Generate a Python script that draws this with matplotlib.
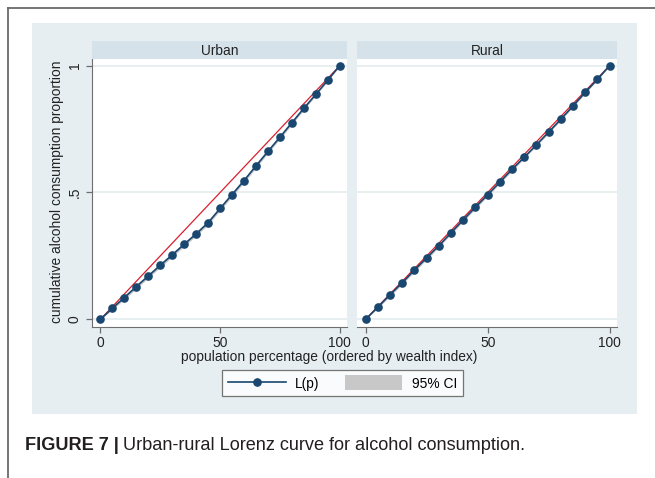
import matplotlib
matplotlib.use('Agg')
import matplotlib.pyplot as plt
from matplotlib.lines import Line2D
from matplotlib.patches import Rectangle, Patch

# Lorenz curve values (p in %, cumulative share)
pop_pct = [0, 5, 10, 15, 20, 25, 30, 35, 40, 45, 50,
           55, 60, 65, 70, 75, 80, 85, 90, 95, 100]

urban_L = [0, .044, .086, .129, .171, .213, .254, .296, .337, .381, .437,
           .492, .547, .605, .662, .718, .775, .832, .887, .943, 1.0]
urban_lo = [0, .038, .079, .121, .163, .205, .246, .288, .329, .373, .429,
            .484, .539, .597, .655, .711, .768, .826, .882, .939, 1.0]
urban_hi = [0, .050, .093, .137, .179, .221, .262, .304, .345, .389, .445,
            .500, .555, .613, .669, .725, .782, .838, .892, .947, 1.0]

rural_L = [0, .048, .097, .144, .194, .242, .290, .341, .392, .442, .491,
           .541, .591, .639, .688, .738, .789, .841, .895, .946, 1.0]
rural_lo = [0, .043, .091, .138, .188, .236, .284, .335, .386, .436, .485,
            .535, .585, .634, .683, .733, .784, .837, .891, .943, 1.0]
rural_hi = [0, .053, .103, .150, .200, .248, .296, .347, .398, .448, .497,
            .547, .597, .644, .693, .743, .794, .845, .899, .949, 1.0]

equality_x = [0, 100]
equality_y = [0, 1]

panels = ['Urban', 'Rural']
xticks = [0, 50, 100]
yticks = [0, .5, 1]
ytick_labels = ['0', '.5', '1']

navy = '#1a476f'
red = '#d9202f'
region_col = '#e6eef1'
strip_col = '#d5e2e9'
grid_col = '#e4ecef'
axis_col = '#6e6e6e'
fs = 9.9

W, H = 655, 478
plt.rcParams['font.family'] = ['Liberation Sans', 'DejaVu Sans']
fig = plt.figure(figsize=(W / 100, H / 100), dpi=100)
fig.patch.set_facecolor('white')


def fx(px):
    return px / W


def fy(py):
    return 1 - py / H


# Outer frame (top and left border) and the graph region
fig.add_artist(Line2D([fx(8), fx(8)], [fy(8), 0], color='#6a6a6a', lw=1.3))
fig.add_artist(Line2D([fx(8), 1], [fy(8), fy(8)], color='#6a6a6a', lw=1.3))
fig.add_artist(Rectangle((fx(32), fy(414)), fx(637) - fx(32), fy(23) - fy(414),
                         facecolor=region_col, edgecolor='none', zorder=0))

panel_px = [(92, 347), (357, 617)]
data = [(urban_L, urban_lo, urban_hi), (rural_L, rural_lo, rural_hi)]
top_px, bot_px, strip_top = 59, 327, 41

for i, (name, (l, r), (L, lo, hi)) in enumerate(zip(panels, panel_px, data)):
    ax = fig.add_axes([fx(l), fy(bot_px), fx(r) - fx(l), fy(top_px) - fy(bot_px)])
    ax.set_facecolor('white')
    for y in yticks:
        ax.axhline(y, color=grid_col, lw=1.2, zorder=0)
    ax.fill_between(pop_pct, lo, hi, color='#c8c8c8', lw=0, zorder=1)
    ax.plot(equality_x, equality_y, color=red, lw=0.9, zorder=2)
    ax.plot(pop_pct, L, color=navy, lw=1.2, marker='o', ms=5.2,
            markeredgecolor=navy, zorder=3)
    ax.set_xlim(-3.5, 103)
    ax.set_ylim(-0.03, 1.026)
    ax.set_xticks(xticks)
    ax.set_xticklabels([str(t) for t in xticks])
    ax.set_yticks(yticks)
    for s in ['top', 'right']:
        ax.spines[s].set_visible(False)
    ax.spines['bottom'].set_color(axis_col)
    ax.spines['left'].set_color(axis_col)
    ax.tick_params(axis='x', length=4, width=0.9, color=axis_col, pad=2.5,
                   labelsize=fs, labelcolor='#222222')
    if i == 0:
        ax.set_yticklabels(ytick_labels, rotation=90, va='center')
        ax.tick_params(axis='y', length=4, width=0.9, color=axis_col, pad=3.5,
                       labelsize=fs, labelcolor='#222222')
    else:
        ax.spines['left'].set_visible(False)
        ax.tick_params(axis='y', left=False, labelleft=False)

    # panel header strip
    sax = fig.add_axes([fx(l), fy(top_px), fx(r) - fx(l), fy(strip_top) - fy(top_px)])
    sax.set_facecolor(strip_col)
    sax.set_xticks([])
    sax.set_yticks([])
    for s in sax.spines.values():
        s.set_visible(False)
    sax.text(0.5, 0.45, name, ha='center', va='center', fontsize=fs,
             color='#222222', transform=sax.transAxes)

fig.text(fx(57), fy(192), 'cumulative alcohol consumption proportion',
         rotation=90, ha='center', va='center', fontsize=fs, color='#222222')
fig.text(fx(329), fy(357), 'population percentage (ordered by wealth index)',
         ha='center', va='center', fontsize=fs, color='#222222')

handles = [Line2D([], [], color=navy, lw=1.2, marker='o', ms=5.2),
           Patch(facecolor='#c8c8c8', edgecolor='none')]
leg = fig.legend(handles, ['L(p)', '95% CI'], loc='center',
                 bbox_to_anchor=(fx(342.5), fy(383)), ncol=2, fontsize=fs,
                 frameon=True, fancybox=False, edgecolor='#555555',
                 handlelength=4.2, handleheight=1.3, columnspacing=1.8,
                 handletextpad=0.7, borderpad=0.4)
leg.get_frame().set_linewidth(0.9)

# Caption
fig.canvas.draw()
t1 = fig.text(fx(25), fy(445), 'FIGURE 7 |', fontsize=13.1, fontweight='bold',
              ha='left', va='center', color='#231f20')
bb = t1.get_window_extent(renderer=fig.canvas.get_renderer())
fig.text(bb.x1 / W + fx(4), fy(445), 'Urban-rural Lorenz curve for alcohol consumption.',
         fontsize=13.1, ha='left', va='center', color='#231f20')

fig.savefig('out.png', dpi=100)
